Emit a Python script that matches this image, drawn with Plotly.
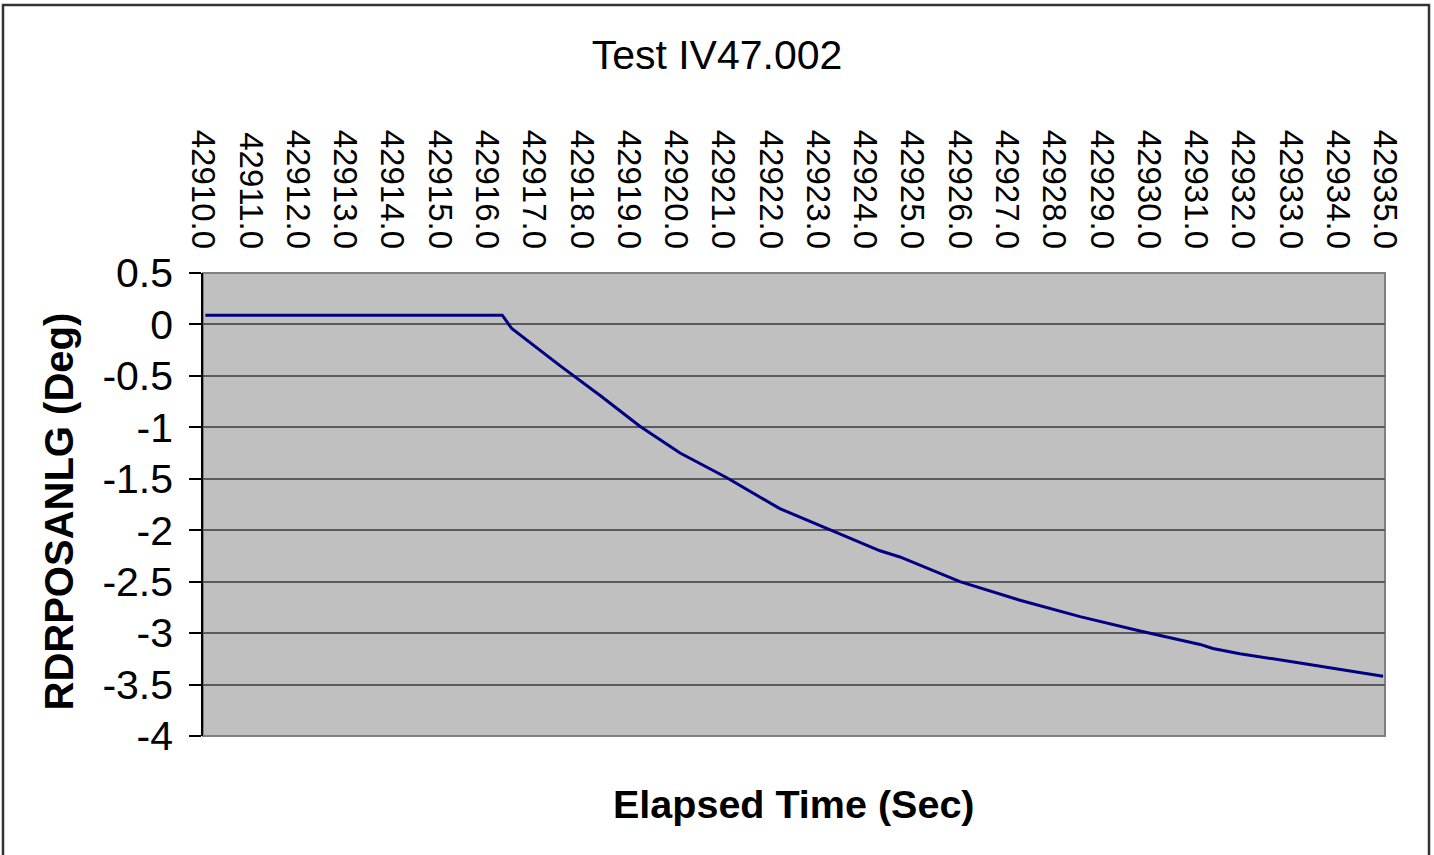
import plotly.graph_objects as go

# ---- data ----
elapsed_time = [42910.05, 42916.33, 42916.53, 42917.55, 42918.40, 42919.24, 42920.09,
                42921.08, 42922.20, 42923.33, 42924.32, 42924.74, 42926.01, 42927.28,
                42928.55, 42929.82, 42931.09, 42931.36, 42931.93, 42933.20, 42934.96]
rdrposanlg = [0.09, 0.09, -0.04, -0.40, -0.69, -0.99, -1.25,
              -1.49, -1.79, -2.01, -2.20, -2.26, -2.50, -2.68,
              -2.84, -2.98, -3.11, -3.15, -3.20, -3.29, -3.42]

x_tick_values = list(range(42910, 42936))
x_tick_labels = [f"{v:.1f}" for v in x_tick_values]
y_tick_values = [0.5, 0, -0.5, -1, -1.5, -2, -2.5, -3, -3.5, -4]
y_tick_labels = ["0.5", "0", "-0.5", "-1", "-1.5", "-2", "-2.5", "-3", "-3.5", "-4"]

X_RANGE = [42910, 42935]
Y_RANGE = [-4, 0.5]
FONT = "Liberation Sans, Arial, sans-serif"

fig = go.Figure()
fig.add_trace(go.Scatter(x=elapsed_time, y=rdrposanlg, mode="lines",
                         line=dict(color="#000080", width=3), showlegend=False))

zero_pos = (0 - Y_RANGE[0]) / (Y_RANGE[1] - Y_RANGE[0])

fig.update_layout(
    width=1434, height=855,
    margin=dict(l=203, r=49, t=273, b=119),
    paper_bgcolor="white", plot_bgcolor="#C0C0C0",
    font=dict(family=FONT, color="black"),
    title=dict(text="Test IV47.002", x=0.5, xref="container", xanchor="center",
               y=1 - 55 / 855, yref="container", yanchor="middle",
               font=dict(size=41, family=FONT, color="black")),
    xaxis=dict(range=X_RANGE, side="top", tickmode="array", tickvals=x_tick_values,
               ticktext=x_tick_labels, tickangle=90, ticks="", showgrid=False,
               zeroline=False, showline=False, ticklabelstandoff=18,
               tickfont=dict(size=33, family=FONT, color="black")),
    xaxis2=dict(range=X_RANGE, overlaying="x", anchor="free", position=zero_pos,
                side="bottom", showline=True, linecolor="black", linewidth=1.5,
                ticks="outside", ticklen=10, tickwidth=1.5, tickcolor="black",
                tickmode="linear", tick0=42910, dtick=1, showticklabels=False,
                showgrid=False, zeroline=False),
    xaxis3=dict(range=X_RANGE, overlaying="x", anchor="free", position=zero_pos,
                side="bottom", showline=False,
                ticks="inside", ticklen=8, tickwidth=1.5, tickcolor="black",
                tickmode="linear", tick0=42910, dtick=0.5, showticklabels=False,
                showgrid=False, zeroline=False),
    yaxis=dict(range=Y_RANGE, tickmode="array", tickvals=y_tick_values,
               ticktext=y_tick_labels, ticks="outside", ticklen=12, tickwidth=1.5,
               tickcolor="black", showline=True, linecolor="black", linewidth=1.5,
               showgrid=True, gridcolor="#5a5a5a", gridwidth=1.5, zeroline=False,
               ticklabelstandoff=8,
               tickfont=dict(size=41, family=FONT, color="black")),
    annotations=[
        dict(text="<b>Elapsed Time (Sec)</b>", xref="paper", yref="paper",
             x=0.5, y=-(804 - 736) / 463, xanchor="center", yanchor="middle",
             showarrow=False, font=dict(size=39.5, family=FONT, color="black")),
        dict(text="<b>RDRPOSANLG (Deg)</b>", xref="paper", yref="paper",
             x=(58 - 203) / 1182, y=(736 - 511.5) / 463, xanchor="center",
             yanchor="middle", textangle=-90, showarrow=False,
             font=dict(size=40, family=FONT, color="black")),
    ],
    shapes=[
        dict(type="rect", xref="paper", yref="paper", x0=0, x1=1, y0=0, y1=1,
             line=dict(color="#808080", width=2), layer="below"),
        dict(type="rect", xref="paper", yref="paper",
             x0=(3 - 203) / 1182, x1=(1429 - 203) / 1182,
             y0=(736 - 870) / 463, y1=(736 - 5) / 463,
             line=dict(color="#333333", width=2.5), layer="above"),
    ],
)

fig.write_html("out.html", config={"displayModeBar": False},
               post_script="document.body.style.margin='0';document.body.style.overflow='hidden';")
